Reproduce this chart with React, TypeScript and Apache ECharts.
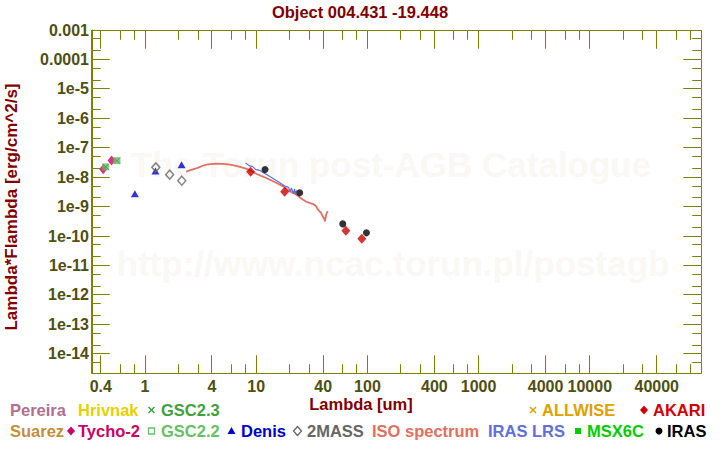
import React, { useEffect, useRef } from 'react';
import * as echarts from 'echarts';

// ---------- data (wavelength in um, lambda*F_lambda in erg/cm^2/s) ----------
const xTickLabels = ['0.4', '1', '4', '10', '40', '100', '400', '1000', '4000', '10000', '40000'];
const xMinorTicks = [0.6, 0.8, 2, 3, 6, 8, 20, 30, 60, 80, 200, 300, 600, 800, 2000, 3000, 6000, 8000, 20000, 30000, 60000, 80000];
const yTickLabels = ['0.001', '0.0001', '1e-5', '1e-6', '1e-7', '1e-8', '1e-9', '1e-10', '1e-11', '1e-12', '1e-13', '1e-14'];
const yMinorTicks = [5e-4, 2e-4, 5e-5, 2e-5, 5e-6, 2e-6, 5e-7, 2e-7, 5e-8, 2e-8, 5e-9, 2e-9, 5e-10, 2e-10, 5e-11, 2e-11, 5e-12, 2e-12, 5e-13, 2e-13, 5e-14, 2e-14, 5e-15];
const xRange = [1 / 3, 1e5];
const yRange = [2.24e-15, 1e-3];

const tychoLam = [0.42, 0.5];
const tychoF = [1.85e-8, 3.7e-8];
const gsc22Lam = [0.443, 0.559];
const gsc22F = [2.25e-8, 3.65e-8];
const gsc23Lam = [0.443, 0.559];
const gsc23F = [2.25e-8, 3.65e-8];
const denisLam = [0.81, 1.24, 2.13];
const denisF = [2.74e-9, 1.61e-8, 2.67e-8];
const twomassLam = [1.25, 1.665, 2.14];
const twomassF = [2.16e-8, 1.22e-8, 7.6e-9];
const akariLam = [8.9, 18, 64, 89];
const akariF = [1.54e-8, 3.2e-9, 1.51e-10, 8.1e-11];
const irasLam = [12, 24.6, 60, 98];
const irasF = [1.84e-8, 2.97e-9, 2.6e-10, 1.29e-10];

const isoLam = [2.34, 2.6, 2.87, 3.09, 3.3, 3.54, 3.9, 4.36, 5.0, 5.6, 6.15, 7.0, 8.11, 9.0, 9.98, 11.0, 12.2, 13.15, 15.1, 17.3, 19.9, 22.9, 24.5, 26.2, 28.0, 30.1, 32.2, 34.6, 35.8, 37.0, 38.3, 39.6, 41.1, 41.5, 42.5, 44.0];
const isoF = [1.54e-8, 1.78e-8, 1.98e-8, 2.21e-8, 2.45e-8, 2.67e-8, 2.8e-8, 2.88e-8, 2.86e-8, 2.72e-8, 2.58e-8, 2.3e-8, 1.95e-8, 1.62e-8, 1.31e-8, 1.12e-8, 9.6e-9, 8.4e-9, 6.5e-9, 4.98e-9, 3.36e-9, 2.6e-9, 2.1e-9, 1.75e-9, 1.5e-9, 1.35e-9, 1.25e-9, 1.04e-9, 8.0e-10, 7.0e-10, 6.2e-10, 4.7e-10, 3.65e-10, 3.2e-10, 5.4e-10, 7.0e-10];

const lrsLam = [8.0, 8.69, 9.25, 9.84, 10.7, 12.1, 13.7, 16.2, 18.3, 19.5, 20.3, 20.7, 21.6, 22.1, 22.5, 23.0];
const lrsF = [3.07e-8, 2.43e-8, 2.33e-8, 1.85e-8, 1.71e-8, 1.3e-8, 9.8e-9, 6.65e-9, 4.86e-9, 4.5e-9, 3.28e-9, 4.32e-9, 2.8e-9, 4.0e-9, 2.6e-9, 3.55e-9];

const titleText = 'Object 004.431 -19.448';
const xName = 'Lambda [um]';
const yName = 'Lambda*Flambda [erg/cm^2/s]';
const watermark1 = 'The Torun post-AGB Catalogue';
const watermark2 = 'http://www.ncac.torun.pl/postagb';

const legendNames = ['Pereira', 'Hrivnak', 'GSC2.3', 'ALLWISE', 'AKARI', 'Suarez', 'Tycho-2', 'GSC2.2', 'Denis', '2MASS', 'ISO spectrum', 'IRAS LRS', 'MSX6C', 'IRAS'];
const legendColors = ['#b07090', '#e6d000', '#40a040', '#e0a000', '#d00000', '#c09040', '#cc0066', '#66c066', '#0000cc', '#666666', '#e07060', '#6070d8', '#00cc00', '#000000'];
const legendSymbols = ['', '', 'cross', 'cross', 'diamond', '', 'diamond', 'openSquare', 'triangle', 'openDiamond', '', '', 'square', 'circle'];
// layout: [symbol centre x, text left x, row]
const legendLayout = [
  [0, 10, 0], [0, 78, 0], [151.5, 161, 0], [533, 542, 0], [644, 653, 0],
  [0, 10, 1], [71, 78, 1], [151.5, 161, 1], [231.5, 241, 1], [297.5, 307, 1], [0, 372, 1], [0, 488, 1], [578, 587, 1], [659, 667, 1],
];

const FONT = 'Liberation Sans, Arial, Helvetica, sans-serif';
const AXIS_COLOR = '#808000';
const LABEL_COLOR = '#4f4f10';
const L = Math.log10;
const pts = (lam: number[], f: number[]) => lam.map((l, i) => [L(l), L(f[i])]);
const findLabel = (labels: string[], v: number) => {
  const i = labels.findIndex((s) => Math.abs(L(Number(s)) - v) < 1e-6);
  return i >= 0 ? labels[i] : '';
};

export default function App() {
  const ref = useRef<HTMLDivElement>(null);

  useEffect(() => {
    if (!ref.current) return;
    const xMin = L(xRange[0]);
    const xMax = L(xRange[1]);
    const yMin = L(yRange[0]);
    const yMax = L(yRange[1]);
    const xMajor = xTickLabels.map((s) => L(Number(s)));
    const xMinor = xMinorTicks.map((v) => L(v));
    const yMajor = yTickLabels.map((s) => L(Number(s)));
    const yMinor = yMinorTicks.map((v) => L(v));

    const chart = echarts.init(ref.current, undefined, { renderer: 'svg' });
    const mkAxis = (dim: 'x' | 'y', values: number[]) => ({
      type: 'value',
      min: dim === 'x' ? xMin : yMin,
      max: dim === 'x' ? xMax : yMax,
      axisLine: { show: true, onZero: false, lineStyle: { color: AXIS_COLOR, width: 1 } },
      axisTick: { show: false },
      axisLabel: {
        show: true,
        customValues: values,
        margin: dim === 'x' ? 5 : 3,
        color: LABEL_COLOR,
        fontWeight: 'bold',
        fontSize: 16,
        fontFamily: FONT,
        formatter: (v: number) => findLabel(dim === 'x' ? xTickLabels : yTickLabels, v),
      },
      splitLine: { show: false },
    });

    chart.setOption({
      animation: false,
      backgroundColor: '#ffffff',
      grid: { left: 92, right: 19, top: 30, bottom: 77 },
      xAxis: mkAxis('x', xMajor),
      yAxis: mkAxis('y', yMajor),
      series: [
        { type: 'line', data: pts(isoLam, isoF), showSymbol: false, symbol: 'none', lineStyle: { color: '#e07060', width: 1.8 }, z: 2 },
        { type: 'line', data: pts(lrsLam, lrsF), showSymbol: false, symbol: 'none', lineStyle: { color: '#6070d8', width: 1.2 }, z: 3 },
        { type: 'scatter', data: pts(tychoLam, tychoF), symbol: 'diamond', symbolSize: [8, 10], itemStyle: { color: '#cc0066' }, z: 4 },
        { type: 'scatter', data: pts(gsc22Lam, gsc22F), symbol: 'rect', symbolSize: 7, itemStyle: { color: '#66bb66' }, z: 5 },
        { type: 'scatter', data: pts(gsc23Lam, gsc23F), symbol: 'path://M0,0L10,10M10,0L0,10', symbolSize: 6, itemStyle: { color: 'rgba(0,0,0,0)', borderColor: '#3f9a3f', borderWidth: 1 }, z: 6 },
        { type: 'scatter', data: pts(denisLam, denisF), symbol: 'triangle', symbolSize: [8, 7], itemStyle: { color: '#0000cc' }, z: 7 },
        { type: 'scatter', data: pts(twomassLam, twomassF), symbol: 'diamond', symbolSize: [8, 9], itemStyle: { color: 'rgba(0,0,0,0)', borderColor: '#666666', borderWidth: 1.5 }, z: 8 },
        { type: 'scatter', data: pts(akariLam, akariF), symbol: 'diamond', symbolSize: [9, 10], itemStyle: { color: '#cc0000' }, z: 9 },
        { type: 'scatter', data: pts(irasLam, irasF), symbol: 'circle', symbolSize: 7, itemStyle: { color: '#000000' }, z: 10 },
      ],
    });

    // ---------- frame + ticks on all four sides, positioned through the axes' scales ----------
    const toPx = (x: number, y: number) => chart.convertToPixel({ gridIndex: 0 }, [x, y]) as number[];
    const crisp = (p: number) => Math.floor(p) + 0.5;
    const bl = toPx(xMin, yMin);
    const tr = toPx(xMax, yMax);
    const left = crisp(bl[0]);
    const bottom = crisp(bl[1]);
    const right = crisp(tr[0]);
    const top = crisp(tr[1]);
    const MAJ = 18;
    const MIN = 9;
    const xt = [...xMajor.map((v) => [v, MAJ]), ...xMinor.map((v) => [v, MIN])]
      .map(([v, len]) => [crisp(toPx(v, yMin)[0]), len])
      .sort((a, b) => a[0] - b[0]);
    const yt = [...yMajor.map((v) => [v, MAJ]), ...yMinor.map((v) => [v, MIN])]
      .map(([v, len]) => [crisp(toPx(xMin, v)[1]), len])
      .sort((a, b) => a[0] - b[0]);

    const bottomPts: number[][] = [[left, bottom]];
    const topPts: number[][] = [[left, top]];
    xt.forEach(([x, len]) => {
      bottomPts.push([x, bottom], [x, bottom - len], [x, bottom]);
      topPts.push([x, top], [x, top + len], [x, top]);
    });
    bottomPts.push([right, bottom]);
    topPts.push([right, top]);
    const leftPts: number[][] = [[left, top]];
    const rightPts: number[][] = [[right, top]];
    yt.forEach(([y, len]) => {
      leftPts.push([left, y], [left + len, y], [left, y]);
      rightPts.push([right, y], [right - len, y], [right, y]);
    });
    leftPts.push([left, bottom]);
    rightPts.push([right, bottom]);
    const frameStyle = { stroke: AXIS_COLOR, lineWidth: 1, lineJoin: 'bevel', lineCap: 'butt', fill: null };
    const frameGraphics = [bottomPts, topPts, leftPts, rightPts].map((p) => ({ type: 'polyline', z: 5, shape: { points: p }, style: { ...frameStyle } }));

    const legendGraphics: any[] = [];
    legendNames.forEach((name, i) => {
      const [sx, tx, row] = legendLayout[i];
      const cy = row === 0 ? 410 : 431;
      const color = legendColors[i];
      legendGraphics.push({ type: 'text', left: tx, top: cy - 9, style: { text: name, fill: color, font: `bold 16.5px ${FONT}` } });
      const sym = legendSymbols[i];
      if (sym === 'cross') {
        legendGraphics.push({ type: 'line', shape: { x1: sx - 3, y1: cy - 3, x2: sx + 3, y2: cy + 3 }, style: { stroke: color, lineWidth: 1.5 } });
        legendGraphics.push({ type: 'line', shape: { x1: sx - 3, y1: cy + 3, x2: sx + 3, y2: cy - 3 }, style: { stroke: color, lineWidth: 1.5 } });
      } else if (sym === 'diamond' || sym === 'openDiamond') {
        legendGraphics.push({
          type: 'polygon',
          shape: { points: [[sx, cy - 4.5], [sx + 4, cy], [sx, cy + 4.5], [sx - 4, cy]] },
          style: sym === 'diamond' ? { fill: color } : { fill: 'rgba(0,0,0,0)', stroke: color, lineWidth: 1.3 },
        });
      } else if (sym === 'square' || sym === 'openSquare') {
        legendGraphics.push({
          type: 'rect',
          shape: { x: sx - 3, y: cy - 3, width: 6, height: 6 },
          style: sym === 'square' ? { fill: color } : { fill: 'rgba(0,0,0,0)', stroke: color, lineWidth: 1.3 },
        });
      } else if (sym === 'triangle') {
        legendGraphics.push({ type: 'polygon', shape: { points: [[sx, cy - 4], [sx + 4, cy + 3], [sx - 4, cy + 3]] }, style: { fill: color } });
      } else if (sym === 'circle') {
        legendGraphics.push({ type: 'circle', shape: { cx: sx, cy, r: 3.5 }, style: { fill: color } });
      }
    });

    chart.setOption({
      graphic: [
        { type: 'text', x: 391, y: 164, z: -10, style: { text: watermark1, fill: '#faf8f5', font: `bold 35px ${FONT}`, align: 'center', verticalAlign: 'middle' } },
        { type: 'text', x: 393, y: 263, z: -10, style: { text: watermark2, fill: '#faf8f5', font: `bold 35px ${FONT}`, align: 'center', verticalAlign: 'middle' } },
        ...frameGraphics,
        { type: 'text', x: 360, y: 12, style: { text: titleText, fill: '#800000', font: `bold 16.5px ${FONT}`, align: 'center', verticalAlign: 'middle' } },
        { type: 'text', x: 361, y: 404, style: { text: xName, fill: '#800000', font: `bold 16.5px ${FONT}`, align: 'center', verticalAlign: 'middle' } },
        { type: 'text', x: 11, y: 207, rotation: Math.PI / 2, style: { text: yName, fill: '#800000', font: `bold 17px ${FONT}`, align: 'center', verticalAlign: 'middle' } },
        ...legendGraphics,
      ],
    });

    return () => chart.dispose();
  }, []);

  return <div ref={ref} style={{ position: 'absolute', left: 0, top: 0, width: 720, height: 450 }} />;
}
